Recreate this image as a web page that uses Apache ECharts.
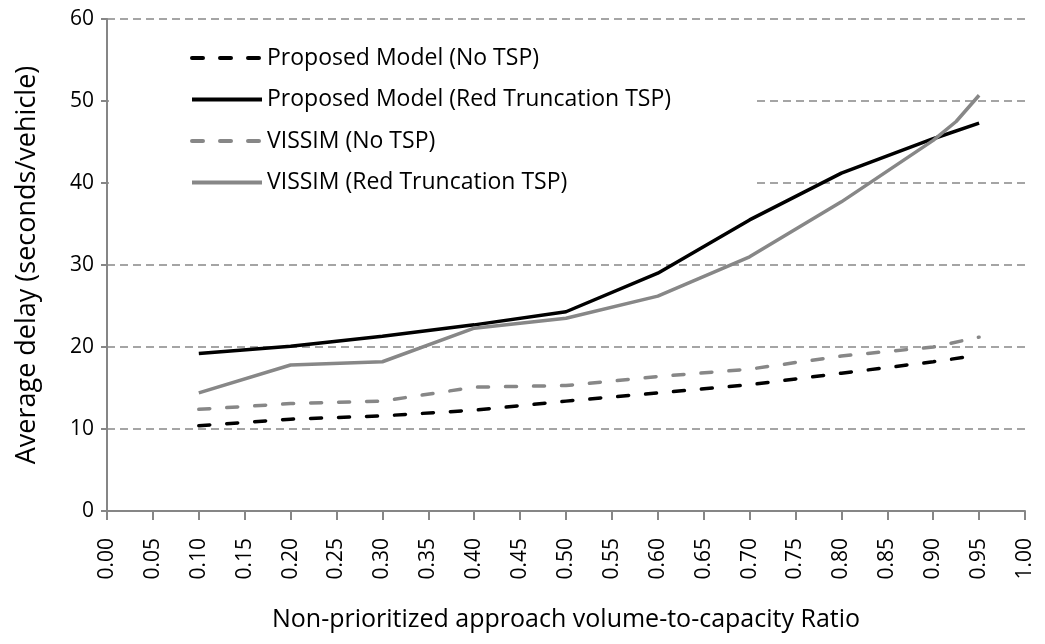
<!DOCTYPE HTML>
<html>
<head>
<meta charset="utf-8">
<title>Average delay</title>
<script src="https://cdn.jsdelivr.net/npm/echarts@6/dist/echarts.min.js"></script>
<style>
body{margin:0;background:#fff;}
#main{width:1045px;height:644px;}
</style>
</head>
<body>
<div id="main"></div>
<script type="text/javascript">
// v/c ratio on x, delay (s/veh) on y
var ratios = [0.10, 0.20, 0.30, 0.40, 0.50, 0.60, 0.70, 0.80, 0.90, 0.95];
var ratiosVissimTsp = [0.10, 0.20, 0.30, 0.40, 0.50, 0.60, 0.70, 0.80, 0.90, 0.925, 0.95];

var modelNoTsp = [10.4, 11.2, 11.6, 12.3, 13.4, 14.4, 15.4, 16.8, 18.2, 19.0];
var modelTsp = [19.2, 20.1, 21.3, 22.7, 24.3, 29.0, 35.5, 41.2, 45.4, 47.3];
var vissimNoTsp = [12.4, 13.1, 13.4, 15.1, 15.3, 16.4, 17.3, 18.9, 20.0, 21.2];
var vissimTsp = [14.4, 17.8, 18.2, 22.3, 23.5, 26.2, 31.0, 37.7, 45.2, 47.5, 50.7];

var seriesNames = ['Proposed Model (No TSP)', 'Proposed Model (Red Truncation TSP)',
	'VISSIM (No TSP)', 'VISSIM (Red Truncation TSP)'];

function pairs(xs, ys) {
	var out = [];
	for (var i = 0; i < ys.length; i++) out.push([xs[i], ys[i]]);
	return out;
}

var fontName = 'Open Sans';
var axisGray = '#868686';

var myChart = echarts.init(document.getElementById('main'), null, {renderer: 'canvas'});

function mkLine(name, data, color, dashed) {
	return {
		name: name,
		type: 'line',
		data: data,
		symbol: 'none',
		smooth: false,
		animation: false,
		lineStyle: {
			color: color,
			width: 3.5,
			type: dashed ? [11, 17] : 'solid',
			cap: dashed ? 'round' : 'butt'
		},
		itemStyle: {color: color}
	};
}

var option = {
	backgroundColor: '#fff',
	animation: false,
	grid: {left: 107, right: 20, top: 19, bottom: 133},
	legend: {
		orient: 'vertical',
		left: 109,
		top: 28,
		padding: [17, 82, 15, 81],
		backgroundColor: '#fff',
		itemWidth: 70,
		itemHeight: 26,
		itemGap: 15.5,
		itemStyle: {opacity: 0},
		lineStyle: {width: 4},
		textStyle: {fontFamily: fontName, fontSize: 23, lineHeight: 26, color: '#000'},
		data: seriesNames
	},
	xAxis: {
		type: 'value',
		min: 0,
		max: 1,
		interval: 0.05,
		name: 'Non-prioritized approach volume-to-capacity Ratio',
		nameLocation: 'middle',
		nameGap: 96,
		nameTextStyle: {fontFamily: fontName, fontSize: 25, color: '#000'},
		axisLine: {show: true, lineStyle: {color: axisGray, width: 2}},
		axisTick: {show: true, length: 9, lineStyle: {color: axisGray, width: 2}},
		axisLabel: {
			rotate: 90,
			margin: 27,
			fontFamily: fontName,
			fontSize: 21,
			color: '#000',
			formatter: function (v) { return v.toFixed(2); }
		},
		splitLine: {show: false}
	},
	yAxis: {
		type: 'value',
		min: 0,
		max: 60,
		interval: 10,
		name: 'Average delay (seconds/vehicle)',
		nameLocation: 'middle',
		nameGap: 66,
		nameTextStyle: {fontFamily: fontName, fontSize: 27, color: '#000'},
		axisLine: {show: true, lineStyle: {color: axisGray, width: 2}},
		axisTick: {show: true, length: 6, lineStyle: {color: axisGray, width: 2}},
		axisLabel: {margin: 13, fontFamily: fontName, fontSize: 21, color: '#000'},
		splitLine: {show: true, lineStyle: {color: '#888', width: 1.5, type: [8, 5]}}
	},
	series: [
		mkLine(seriesNames[0], pairs(ratios, modelNoTsp), '#000', true),
		mkLine(seriesNames[1], pairs(ratios, modelTsp), '#000', false),
		mkLine(seriesNames[2], pairs(ratios, vissimNoTsp), '#878787', true),
		mkLine(seriesNames[3], pairs(ratiosVissimTsp, vissimTsp), '#878787', false)
	]
};

myChart.setOption(option);
</script>
</body>
</html>
